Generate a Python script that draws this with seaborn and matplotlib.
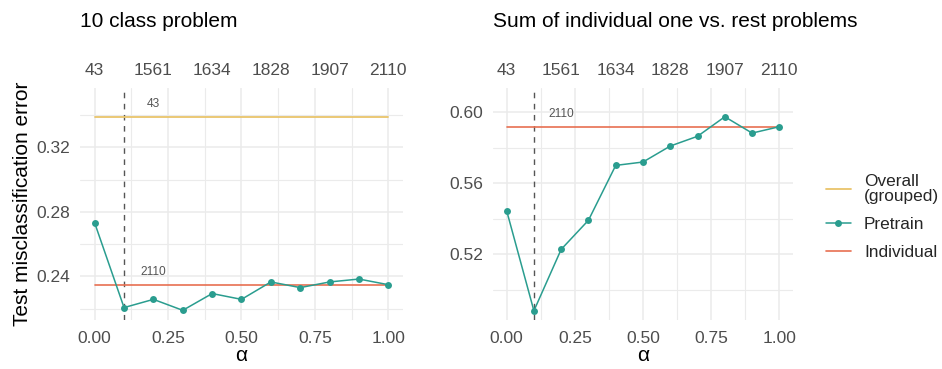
import numpy as np
import pandas as pd
import matplotlib
matplotlib.use("Agg")
import matplotlib.pyplot as plt
from matplotlib.lines import Line2D
from matplotlib.ticker import FixedLocator
import seaborn as sns

# ---------------- data ----------------
alpha = [0.0, 0.1, 0.2, 0.3, 0.4, 0.5, 0.6, 0.7, 0.8, 0.9, 1.0]
left_pretrain = [0.2731, 0.2206, 0.2257, 0.2189, 0.2293, 0.2257,
                 0.2365, 0.2330, 0.2365, 0.2383, 0.2348]
left_individual = 0.2348
left_overall = 0.3389
right_pretrain = [0.5446, 0.4882, 0.5228, 0.5392, 0.5701, 0.5720,
                  0.5810, 0.5865, 0.5975, 0.5883, 0.5919]
right_individual = 0.5919
alpha_star = 0.1
top_tick_alpha = [0.0, 0.2, 0.4, 0.6, 0.8, 1.0]
top_tick_labels = ["43", "1561", "1634", "1828", "1907", "2110"]
overall_label = "43"
individual_label = "2110"
label_alpha = 0.2
titles = ["10 class problem", "Sum of individual one vs. rest problems"]
series_names = ["Overall\n(grouped)", "Pretrain", "Individual"]

# ---------------- style ----------------
sns.set_theme(style="whitegrid")
plt.rcParams["font.family"] = ["Liberation Sans", "DejaVu Sans"]

C_OVERALL = "#E9C46A"
C_PRETRAIN = "#2A9D8F"
C_INDIV = "#E76F51"
GRID = "#EBEBEB"
TICK_C = "#4D4D4D"

fig = plt.figure(figsize=(9.42, 3.69), dpi=100)
W, H = 942, 369

def make_ax(x0, x1, y0, y1):
    return fig.add_axes([x0 / W, 1 - y1 / H, (x1 - x0) / W, (y1 - y0) / H])

axL = make_ax(80, 403, 88, 320)
axR = make_ax(493, 793, 88, 320)

panels = [
    (axL, left_pretrain, left_individual, left_overall, (0.2129, 0.3568),
     [0.24, 0.28, 0.32], [0.22, 0.26, 0.30, 0.34]),
    (axR, right_pretrain, right_individual, None, (0.4830, 0.6137),
     [0.52, 0.56, 0.60], [0.50, 0.54, 0.58]),
]

for i, (ax, pre, ind, ovr, ylim, ymaj, ymin) in enumerate(panels):
    ax.set_facecolor("white")
    for s in ax.spines.values():
        s.set_visible(False)
    # horizontal reference lines (alpha 0..1)
    ends = [alpha[0], alpha[-1]]
    if ovr is not None:
        sns.lineplot(x=ends, y=[ovr, ovr], ax=ax, color=C_OVERALL, lw=1.3,
                     legend=False, zorder=3)
    sns.lineplot(x=ends, y=[ind, ind], ax=ax, color=C_INDIV, lw=1.2,
                 legend=False, zorder=3)
    # pretrain line
    df = pd.DataFrame({"alpha": alpha, "err": pre})
    sns.lineplot(data=df, x="alpha", y="err", ax=ax, color=C_PRETRAIN, lw=1.1,
                 marker="o", markersize=5, markeredgewidth=0, legend=False,
                 zorder=4)
    ax.axvline(alpha_star, color="#555555", lw=1.0, ls=(0, (4, 4)), zorder=2)

    # text labels
    if ovr is not None:
        ax.annotate(overall_label, (label_alpha, ovr), xytext=(0, 9.1),
                    textcoords="offset points", ha="center", va="center",
                    fontsize=8.6, color="#555555")
    ax.annotate(individual_label, (label_alpha, ind), xytext=(0, 9.1),
                textcoords="offset points", ha="center", va="center",
                fontsize=8.6, color="#555555")

    ax.set_xlim(-0.05, 1.05)
    ax.set_ylim(*ylim)
    ax.set_xticks([0.0, 0.25, 0.5, 0.75, 1.0])
    ax.set_xticklabels(["0.00", "0.25", "0.50", "0.75", "1.00"])
    ax.xaxis.set_minor_locator(FixedLocator([0.125, 0.375, 0.625, 0.875]))
    ax.set_yticks(ymaj)
    ax.set_yticklabels([f"{v:.2f}" for v in ymaj])
    ax.yaxis.set_minor_locator(FixedLocator(ymin))
    ax.grid(which="major", color=GRID, lw=1.1)
    ax.grid(which="minor", color=GRID, lw=0.8)
    ax.set_axisbelow(True)
    ax.tick_params(which="both", length=0)
    ax.tick_params(axis="x", labelsize=12.5, colors=TICK_C, pad=8)
    ax.tick_params(axis="y", labelsize=12.5, colors=TICK_C, pad=7)

    sec = ax.secondary_xaxis("top")
    sec.set_xticks(top_tick_alpha)
    sec.set_xticklabels(top_tick_labels)
    sec.tick_params(length=0, labelsize=12.5, colors=TICK_C, pad=7)
    for s in sec.spines.values():
        s.set_visible(False)

    ax.set_xlabel("α", fontsize=15, color="black", labelpad=0)
    ax.set_ylabel("")
    ax.set_title(titles[i], loc="left", fontsize=15, color="black", pad=44)

axL.set_ylabel("Test misclassification error", fontsize=15, color="black",
               labelpad=3)

handles = [
    Line2D([], [], color=C_OVERALL, lw=1.3),
    Line2D([], [], color=C_PRETRAIN, lw=1.1, marker="o", markersize=5,
           markeredgewidth=0),
    Line2D([], [], color=C_INDIV, lw=1.2),
]
leg = fig.legend(handles, series_names, loc="center left",
                 bbox_to_anchor=(826 / W, 1 - 217 / H), frameon=False,
                 fontsize=12.4, handlelength=1.45, handletextpad=0.75,
                 labelspacing=0.75, borderpad=0, borderaxespad=0)
for t in leg.get_texts():
    t.set_linespacing(0.95)

fig.savefig("out.png", dpi=100, facecolor="white")
